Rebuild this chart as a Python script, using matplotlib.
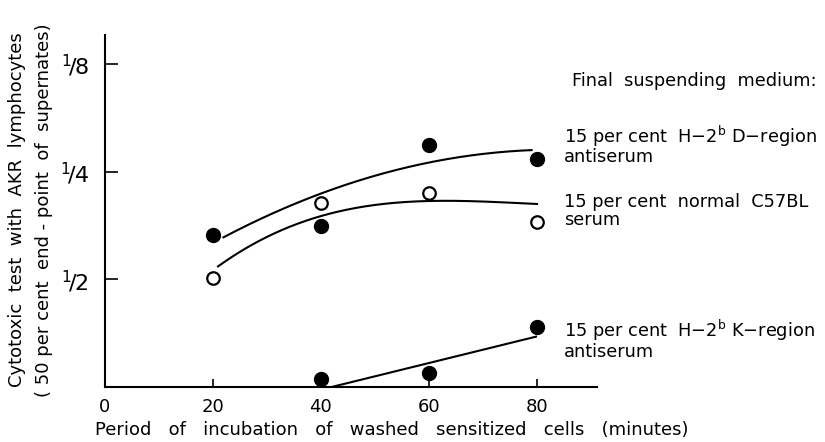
import numpy as np
import matplotlib
matplotlib.use("Agg")
import matplotlib.pyplot as plt

plt.rcParams['font.family'] = ['DejaVu Sans']
plt.rcParams['mathtext.fontset'] = 'dejavusans'

# Incubation time (minutes)
minutes = [20, 40, 60, 80]
# End-point titres as doubling steps above undiluted (0 = 1, 1 = 1/2, 2 = 1/4, 3 = 1/8)
d_region = [1.41, 1.495, 2.25, 2.12]
normal_serum = [1.01, 1.705, 1.80, 1.535]
k_minutes = [40, 60, 80]
k_region = [0.07, 0.13, 0.555]

# Hand-drawn trend curves, read as knots along each line
d_curve_x = [22, 40, 50, 60, 79]
d_curve_y = [1.39, 1.80, 1.955, 2.09, 2.20]
n_curve_x = [21, 40, 49, 60, 80]
n_curve_y = [1.12, 1.59, 1.68, 1.73, 1.70]
k_line_x = [42, 80]
k_line_y = [0.0, 0.47]

x_ticks = [0, 20, 40, 60, 80]
x_tick_labels = ['0', '20', '40', '60', '80']
y_ticks = [1, 2, 3]
y_tick_labels = [r'${}^{1}\!/2$', r'${}^{1}\!/4$', r'${}^{1}\!/8$']

W, H = 825, 442
fig = plt.figure(figsize=(W / 100, H / 100), dpi=100)
ax = fig.add_axes([104.5 / W, 55 / H, 492 / W, 352 / H])
ax.set_xlim(0, 91)
ax.set_ylim(0, 3.27)

lw = 1.5
for s in ['top', 'right']:
    ax.spines[s].set_visible(False)
for s in ['left', 'bottom']:
    ax.spines[s].set_linewidth(lw)

ax.set_xticks(x_ticks)
ax.set_xticklabels(x_tick_labels, fontsize=13)
ax.set_yticks(y_ticks)
ax.set_yticklabels(y_tick_labels, fontsize=16)
ax.tick_params(axis='x', direction='in', length=6, width=1.2, pad=8)
ax.tick_params(axis='y', direction='in', length=9, width=1.2, pad=11)


def smooth(xs, ys, deg):
    coef = np.polyfit(xs, ys, deg)
    xx = np.linspace(min(xs), max(xs), 200)
    return xx, np.polyval(coef, xx)


xx, yy = smooth(d_curve_x, d_curve_y, 2)
ax.plot(xx, yy, color='black', lw=1.5)
xx, yy = smooth(n_curve_x, n_curve_y, 3)
ax.plot(xx, yy, color='black', lw=1.5)
ax.plot(k_line_x, k_line_y, color='black', lw=1.5, solid_capstyle='butt')

ax.plot(minutes, d_region, 'o', color='black', ms=10, clip_on=False)
ax.plot(minutes, normal_serum, 'o', mfc='white', mec='black', mew=1.6, ms=9, clip_on=False)
ax.plot(k_minutes, k_region, 'o', color='black', ms=10, clip_on=False, zorder=5)


def ftext(px, py, s, **kw):
    fig.text(px / W, 1 - py / H, s, **kw)


fs = 12.8
ftext(572, 86, 'Final  suspending  medium:', fontsize=fs, va='baseline')
ftext(564, 142.7, r'15 per cent  H$-$2$^{\mathregular{b}}$ D$-$region', fontsize=fs, va='baseline')
ftext(564, 161.7, 'antiserum', fontsize=fs, va='baseline')
ftext(564, 206.7, '15 per cent  normal  C57BL', fontsize=fs, va='baseline')
ftext(564, 225, 'serum', fontsize=fs, va='baseline')
ftext(564, 336.7, r'15 per cent  H$-$2$^{\mathregular{b}}$ K$-$region', fontsize=fs, va='baseline')
ftext(564, 356.7, 'antiserum', fontsize=fs, va='baseline')

ftext(392, 435, 'Period   of   incubation   of   washed   sensitized   cells   (minutes)',
      fontsize=13, ha='center', va='baseline')
ftext(17, 210, 'Cytotoxic  test  with  AKR  lymphocytes', fontsize=13,
      rotation=90, ha='center', va='center')
ftext(44, 210, '( 50 per cent  end - point  of  supernates)', fontsize=13,
      rotation=90, ha='center', va='center')

fig.savefig('out.png', dpi=100)
